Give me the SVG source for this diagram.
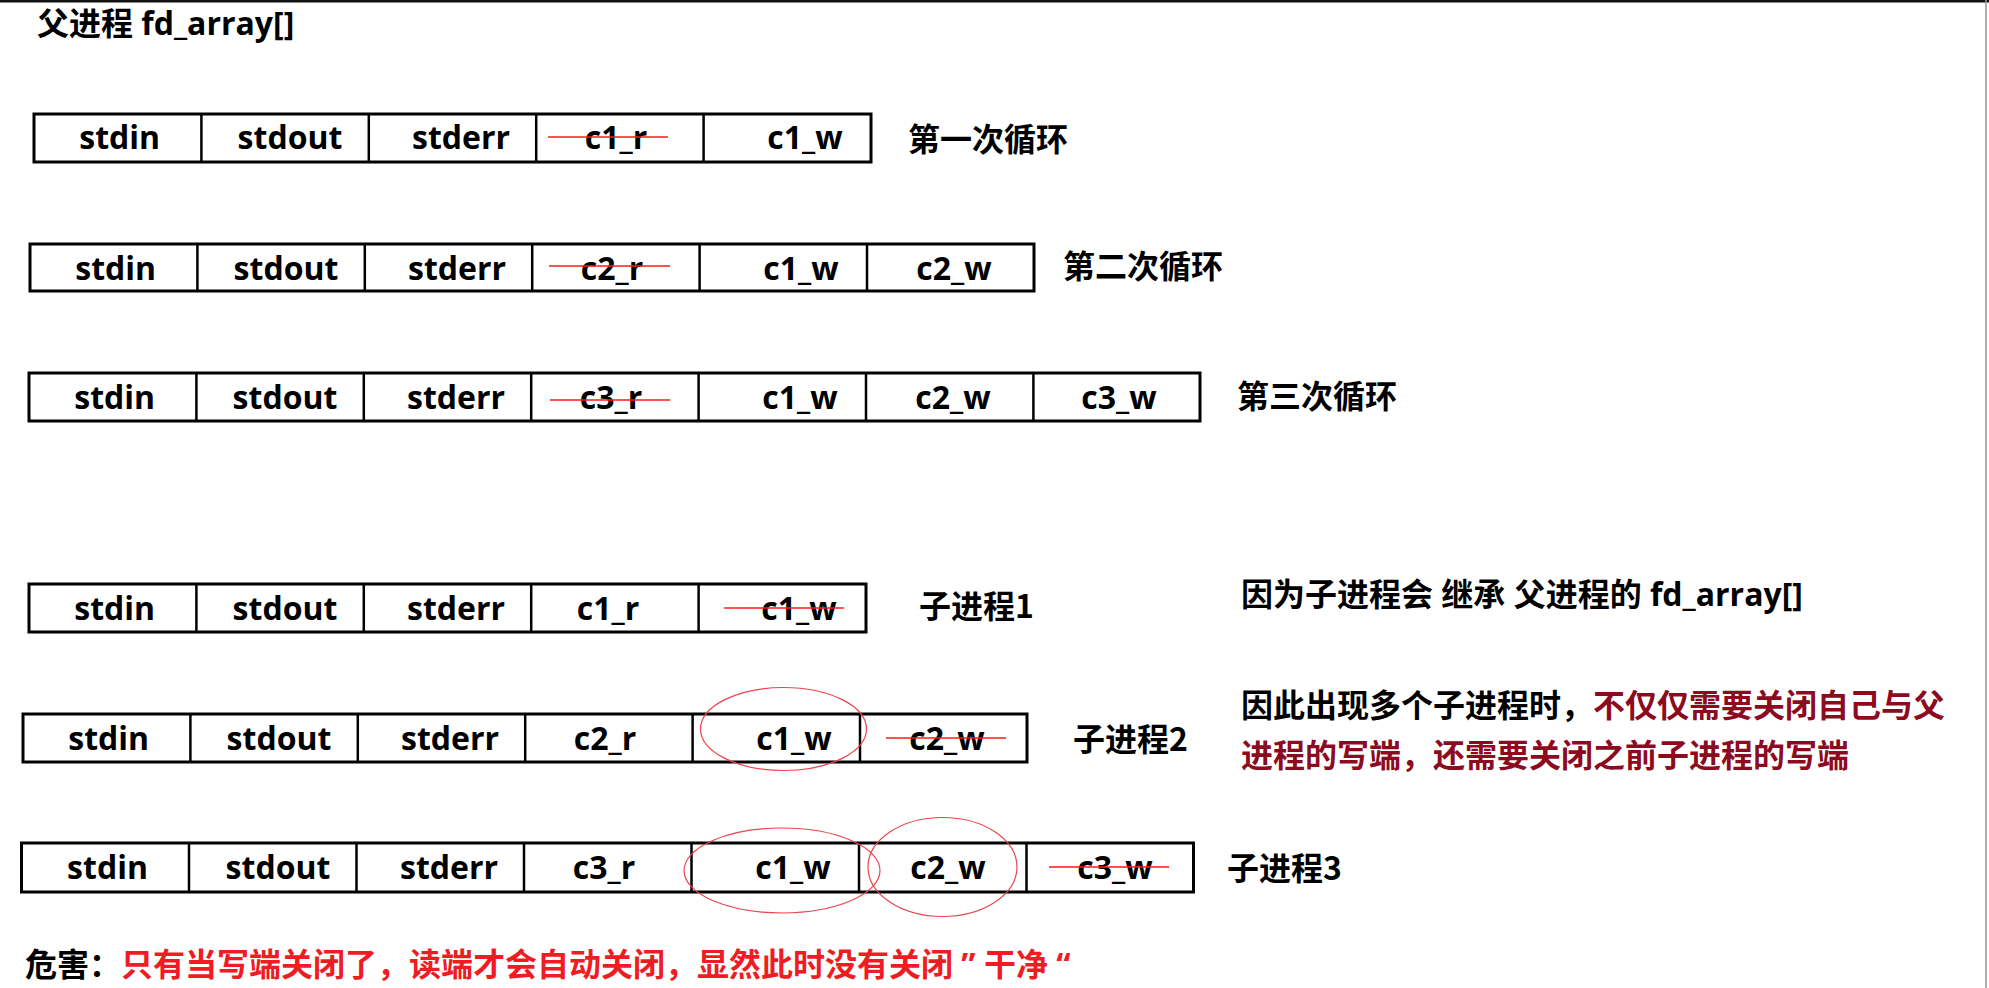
<svg xmlns="http://www.w3.org/2000/svg" width="1989" height="988" viewBox="0 0 1989 988">
<style>
text{font-family:"Open Sans","Noto Sans CJK SC","Noto Sans",sans-serif;font-weight:bold;font-size:32px;fill:#000}
.cjk{font-family:"Noto Sans CJK SC","Noto Sans",sans-serif}
.c{text-anchor:middle}
.box{fill:#fff;stroke:#000;stroke-width:3}
.div{stroke:#000;stroke-width:2.5}
.strike{stroke:#ff1a1a;stroke-width:1.6}
.ring{fill:none;stroke:#e8454f;stroke-width:1.2}
.dred{fill:#8c0b1f}
.red{fill:#f01c24}
</style>
<rect x="0" y="0" width="1989" height="988" fill="#fff"/>
<line x1="0" y1="1.2" x2="1989" y2="1.2" stroke="#111" stroke-width="2.6"/>
<line x1="1986" y1="0" x2="1986" y2="988" stroke="#9a9a9a" stroke-width="1.6"/>

<text id="title" x="37" y="35">父进程 fd_array[]</text>

<g id="parent-loop1">
<rect class="box" x="34" y="114" width="837" height="48"/>
<line class="div" x1="201.4" y1="114" x2="201.4" y2="162"/>
<line class="div" x1="368.8" y1="114" x2="368.8" y2="162"/>
<line class="div" x1="536.2" y1="114" x2="536.2" y2="162"/>
<line class="div" x1="703.6" y1="114" x2="703.6" y2="162"/>
<text class="c" x="119.7" y="149">stdin</text>
<text class="c" x="290" y="149">stdout</text>
<text class="c" x="461" y="149">stderr</text>
<text class="c" x="616" y="149">c1_r</text>
<text class="c" x="805" y="149">c1_w</text>
<text class="cjk" x="908" y="151">第一次循环</text>
</g>

<g id="parent-loop2">
<rect class="box" x="30" y="244" width="1004" height="47"/>
<line class="div" x1="197.4" y1="244" x2="197.4" y2="291"/>
<line class="div" x1="364.8" y1="244" x2="364.8" y2="291"/>
<line class="div" x1="532.2" y1="244" x2="532.2" y2="291"/>
<line class="div" x1="699.6" y1="244" x2="699.6" y2="291"/>
<line class="div" x1="867" y1="244" x2="867" y2="291"/>
<text class="c" x="115.7" y="280">stdin</text>
<text class="c" x="286" y="280">stdout</text>
<text class="c" x="457" y="280">stderr</text>
<text class="c" x="612" y="280">c2_r</text>
<text class="c" x="801" y="280">c1_w</text>
<text class="c" x="954" y="280">c2_w</text>
<text class="cjk" x="1063" y="278">第二次循环</text>
</g>

<g id="parent-loop3">
<rect class="box" x="29" y="373" width="1171" height="48"/>
<line class="div" x1="196.4" y1="373" x2="196.4" y2="421"/>
<line class="div" x1="363.8" y1="373" x2="363.8" y2="421"/>
<line class="div" x1="531.2" y1="373" x2="531.2" y2="421"/>
<line class="div" x1="698.6" y1="373" x2="698.6" y2="421"/>
<line class="div" x1="866" y1="373" x2="866" y2="421"/>
<line class="div" x1="1033.4" y1="373" x2="1033.4" y2="421"/>
<text class="c" x="114.7" y="409">stdin</text>
<text class="c" x="285" y="409">stdout</text>
<text class="c" x="456" y="409">stderr</text>
<text class="c" x="611" y="409">c3_r</text>
<text class="c" x="800" y="409">c1_w</text>
<text class="c" x="953" y="409">c2_w</text>
<text class="c" x="1119" y="409">c3_w</text>
<text class="cjk" x="1237" y="408">第三次循环</text>
</g>

<g id="child1">
<rect class="box" x="29" y="584" width="837" height="48"/>
<line class="div" x1="196.4" y1="584" x2="196.4" y2="632"/>
<line class="div" x1="363.8" y1="584" x2="363.8" y2="632"/>
<line class="div" x1="531.2" y1="584" x2="531.2" y2="632"/>
<line class="div" x1="698.6" y1="584" x2="698.6" y2="632"/>
<text class="c" x="114.7" y="620">stdin</text>
<text class="c" x="285" y="620">stdout</text>
<text class="c" x="456" y="620">stderr</text>
<text class="c" x="608" y="620">c1_r</text>
<text class="c" x="799" y="620">c1_w</text>
<text class="cjk" x="919" y="618">子进程1</text>
</g>

<g id="child2">
<rect class="box" x="23" y="714" width="1004" height="48"/>
<line class="div" x1="190.4" y1="714" x2="190.4" y2="762"/>
<line class="div" x1="357.8" y1="714" x2="357.8" y2="762"/>
<line class="div" x1="525.2" y1="714" x2="525.2" y2="762"/>
<line class="div" x1="692.6" y1="714" x2="692.6" y2="762"/>
<line class="div" x1="860" y1="714" x2="860" y2="762"/>
<text class="c" x="108.7" y="750">stdin</text>
<text class="c" x="279" y="750">stdout</text>
<text class="c" x="450" y="750">stderr</text>
<text class="c" x="605" y="750">c2_r</text>
<text class="c" x="794" y="750">c1_w</text>
<text class="c" x="947" y="750">c2_w</text>
<text class="cjk" x="1073" y="751">子进程2</text>
</g>

<g id="child3">
<rect class="box" x="21.5" y="843" width="1172" height="49"/>
<line class="div" x1="189" y1="843" x2="189" y2="892"/>
<line class="div" x1="356.5" y1="843" x2="356.5" y2="892"/>
<line class="div" x1="524" y1="843" x2="524" y2="892"/>
<line class="div" x1="691.5" y1="843" x2="691.5" y2="892"/>
<line class="div" x1="859" y1="843" x2="859" y2="892"/>
<line class="div" x1="1026.5" y1="843" x2="1026.5" y2="892"/>
<text class="c" x="107.5" y="879">stdin</text>
<text class="c" x="278" y="879">stdout</text>
<text class="c" x="449" y="879">stderr</text>
<text class="c" x="604" y="879">c3_r</text>
<text class="c" x="793" y="879">c1_w</text>
<text class="c" x="948" y="879">c2_w</text>
<text class="c" x="1115" y="879">c3_w</text>
<text class="cjk" x="1227" y="880">子进程3</text>
</g>

<g id="marks">
<line class="strike" x1="548" y1="137" x2="668" y2="137"/>
<line class="strike" x1="549" y1="266" x2="670" y2="266"/>
<line class="strike" x1="550" y1="400" x2="670" y2="400"/>
<line class="strike" x1="724" y1="608" x2="844" y2="608"/>
<line class="strike" x1="886" y1="738" x2="1006" y2="738"/>
<line class="strike" x1="1049" y1="867" x2="1169" y2="867"/>
<ellipse class="ring" cx="783.5" cy="729" rx="83" ry="41.5"/>
<ellipse class="ring" cx="782" cy="870.5" rx="98" ry="42.5"/>
<ellipse class="ring" cx="942.5" cy="867" rx="74.5" ry="49.5"/>
</g>

<g id="notes">
<text x="1241" y="606">因为子进程会 继承 父进程的 fd_array[]</text>
<text x="1241" y="717">因此出现多个子进程时，<tspan class="dred">不仅仅需要关闭自己与父</tspan></text>
<text class="dred" x="1241" y="767">进程的写端，还需要关闭之前子进程的写端</text>
<text x="25" y="976">危害：<tspan class="red">只有当写端关闭了，读端才会自动关闭，显然此时没有关闭 ” 干净 “</tspan></text>
</g>
</svg>
